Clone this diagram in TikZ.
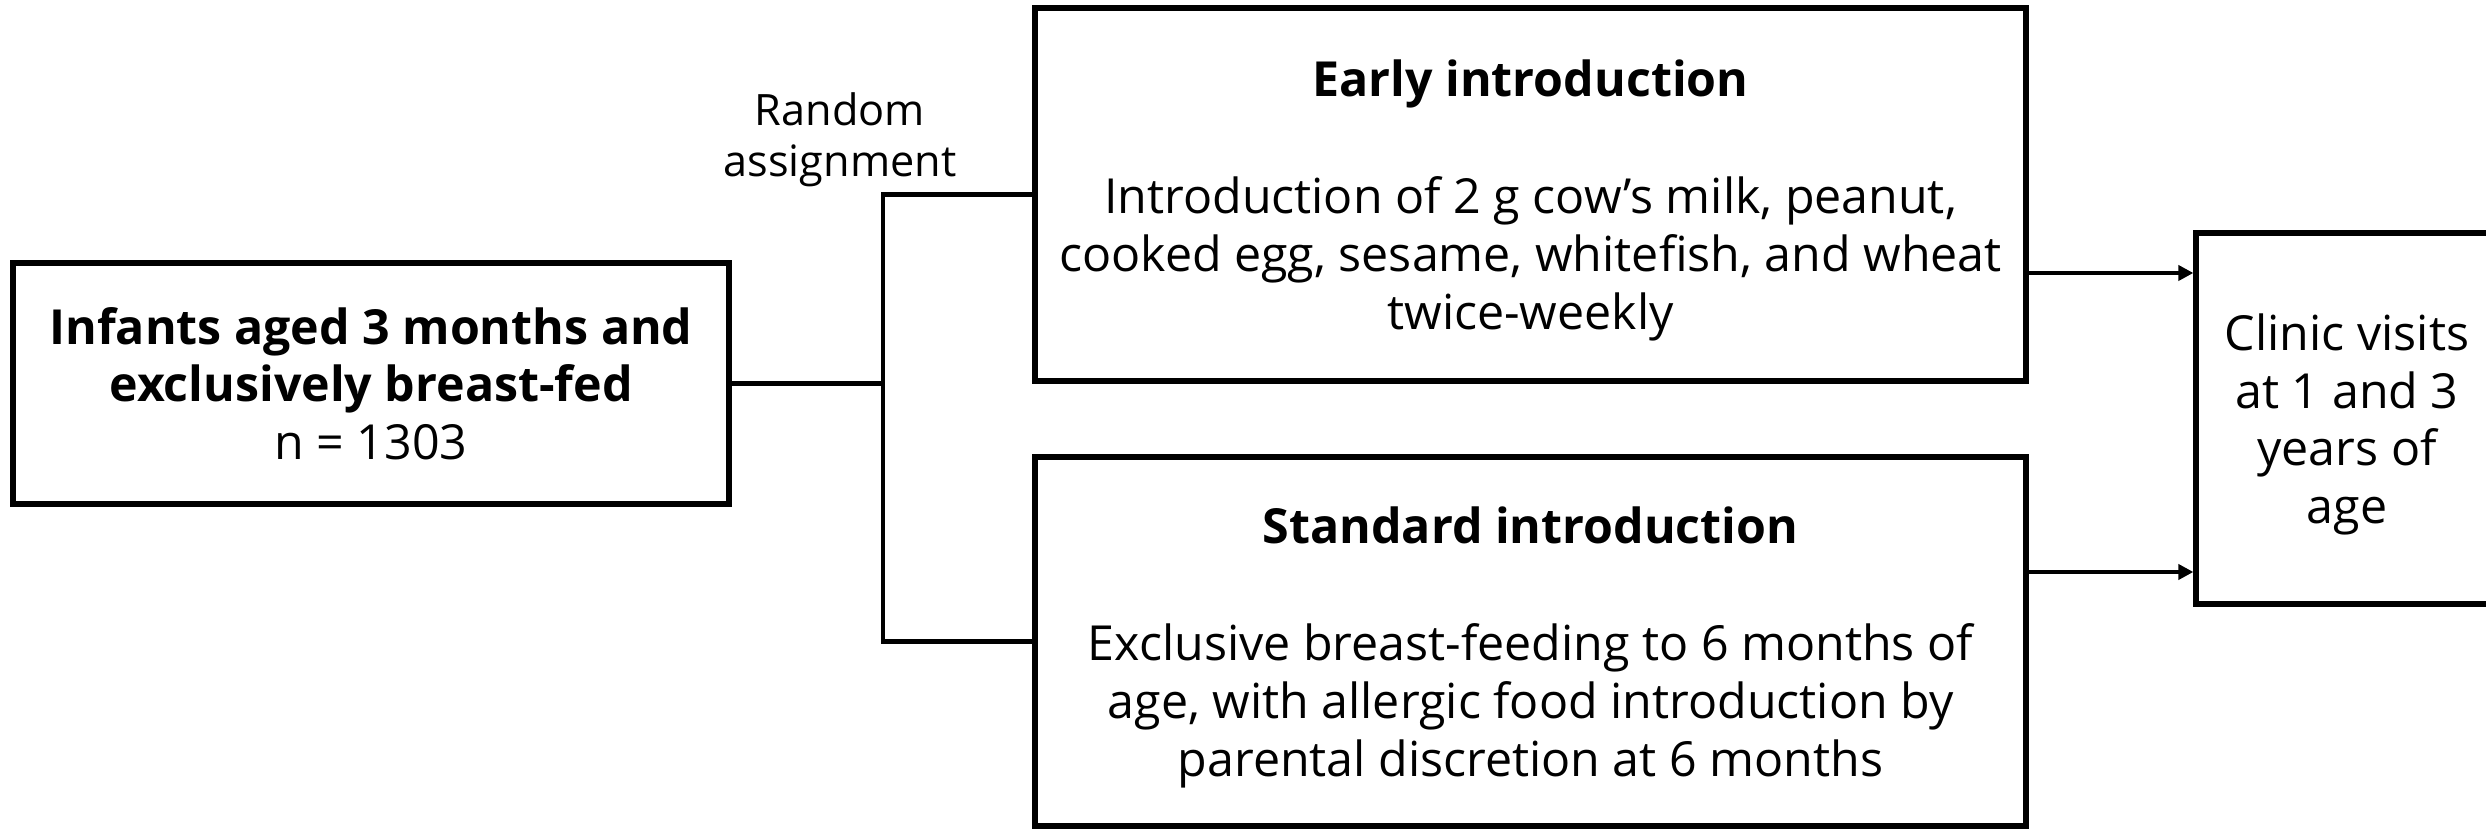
\documentclass[tikz,border=0pt]{standalone}
\usepackage{fontspec}
\setmainfont{Open Sans}
\usetikzlibrary{positioning,arrows.meta}

\tikzset{
  box/.style={draw, line width=1.5pt, align=center, inner sep=2pt, text depth=0pt, font=\fontsize{13.75}{16.4}\selectfont},
  link/.style={line width=1.4pt},
  arr/.style={line width=1.4pt, -{Triangle[length=4.3pt,width=4.3pt]}},
}

\begin{document}
\begin{tikzpicture}
  \clip (0,0) rectangle (24.86,8.29);
  \fill[white] (0,0) rectangle (24.86,8.29);

  % study population
  \node[box, minimum width=7.16cm, minimum height=2.41cm] (infants) at (3.71,4.455)
    {\textbf{Infants aged 3 months and}\\\textbf{exclusively breast-fed}\\n = 1303};

  % the two arms
  \node[box, minimum width=9.91cm, minimum height=3.73cm] (early) at (15.305,6.345)
    {\textbf{Early introduction}\\[17pt]Introduction of 2 g cow’s milk, peanut,\\cooked egg, sesame, whitefish, and wheat\\twice-weekly};
  \node[box, minimum width=9.91cm, minimum height=3.69cm] (standard) at (15.305,1.875)
    {\textbf{Standard introduction}\\[17pt]Exclusive breast-feeding to 6 months of\\age, with allergic food introduction by\\parental discretion at 6 months};

  % outcome
  \node[box, minimum width=3.02cm, minimum height=3.71cm] (clinic) at (23.47,4.105)
    {Clinic visits\\at 1 and 3\\years of\\age};

  % random assignment split
  \coordinate (split) at (8.83,4.455);
  \draw[link] (infants.east) -- (split);
  \draw[link] (early.west) -| (split) |- (standard.west);
  \node[font=\fontsize{12.3}{14.5}\selectfont, align=center, anchor=south, inner sep=0pt] (rnd) at (8.40,6.41) {Random\\assignment};

  % follow-up
  \coordinate (e1) at ([yshift=-0.785cm]early.east);
  \coordinate (s1) at ([yshift=0.695cm]standard.east);
  \draw[arr] (e1) -- (e1 -| clinic.west);
  \draw[arr] (s1) -- (s1 -| clinic.west);
\end{tikzpicture}
\end{document}
